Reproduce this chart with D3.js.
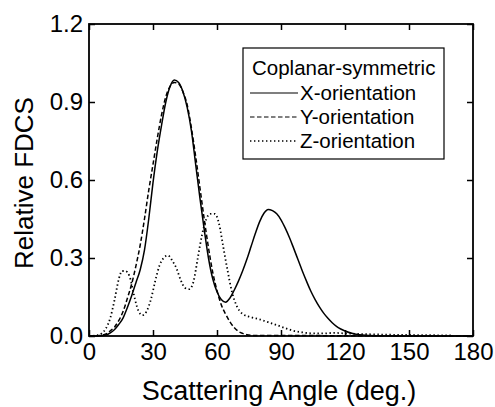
<!DOCTYPE html>
<html>
<head>
<meta charset="utf-8">
<script src="https://cdn.jsdelivr.net/npm/d3@7"></script>
<style>
  body { margin: 0; background: #fff; }
  svg { display: block; font-family: "Liberation Sans", Arial, sans-serif; }
</style>
</head>
<body>
<div id="chart"></div>
<script>
// scattering angle (deg.) and relative FDCS
const xAngles = [0, 5, 8, 10, 12, 14, 16, 18, 20, 22, 24, 26, 28, 30, 32, 34, 36, 38, 40, 42, 44, 46, 48, 50, 52, 54, 56, 58, 60, 62, 64, 66, 68, 70, 72, 74, 76, 78, 80, 82, 84, 86, 88, 90, 92, 94, 96, 98, 100, 102, 104, 106, 108, 110, 112, 114, 116, 118, 120, 124, 128, 135, 150, 180]
const xValues = [0, 0.001, 0.004, 0.012, 0.025, 0.045, 0.07, 0.11, 0.155, 0.205, 0.255, 0.33, 0.45, 0.59, 0.71, 0.81, 0.9, 0.96, 0.985, 0.975, 0.94, 0.88, 0.79, 0.66, 0.53, 0.41, 0.3, 0.22, 0.17, 0.14, 0.13, 0.145, 0.175, 0.21, 0.25, 0.295, 0.345, 0.395, 0.44, 0.472, 0.487, 0.482, 0.47, 0.447, 0.415, 0.378, 0.336, 0.293, 0.25, 0.21, 0.172, 0.14, 0.112, 0.088, 0.068, 0.051, 0.037, 0.027, 0.019, 0.009, 0.004, 0.001, 0, 0]

const yAngles = [0, 5, 8, 10, 12, 14, 16, 18, 20, 22, 24, 26, 28, 30, 32, 34, 36, 38, 40, 42, 44, 46, 48, 50, 52, 54, 56, 58, 60, 62, 64, 66, 68, 70, 72, 74, 78, 90, 120, 180]
const yValues = [0, 0.002, 0.008, 0.02, 0.035, 0.06, 0.095, 0.145, 0.2, 0.27, 0.35, 0.45, 0.56, 0.66, 0.76, 0.85, 0.92, 0.96, 0.975, 0.97, 0.94, 0.89, 0.8, 0.69, 0.57, 0.45, 0.34, 0.245, 0.175, 0.12, 0.085, 0.055, 0.033, 0.018, 0.01, 0.005, 0.002, 0.002, 0.001, 0]

const zAngles = [0, 4, 6, 8, 10, 12, 14, 15.5, 17, 19, 21, 23, 25, 27, 29, 31, 33, 35, 37, 39, 41, 43, 45, 47, 49, 51, 53, 55, 57, 59, 61, 63, 65, 67, 69, 72, 76, 80, 84, 88, 92, 96, 100, 105, 110, 115, 120, 130, 140, 150, 160, 170]
const zValues = [0, 0.003, 0.01, 0.03, 0.07, 0.14, 0.22, 0.25, 0.25, 0.23, 0.16, 0.1, 0.08, 0.095, 0.14, 0.21, 0.27, 0.3, 0.31, 0.29, 0.26, 0.215, 0.185, 0.18, 0.21, 0.3, 0.39, 0.45, 0.47, 0.47, 0.43, 0.34, 0.25, 0.17, 0.12, 0.085, 0.072, 0.064, 0.053, 0.042, 0.03, 0.02, 0.014, 0.01, 0.01, 0.012, 0.01, 0.007, 0.005, 0.004, 0.003, 0.002]

const xTicks = [0, 30, 60, 90, 120, 150, 180]
const yTicks = [0, 0.3, 0.6, 0.9, 1.2]

const seriesNames = ["X-orientation", "Y-orientation", "Z-orientation"]
const legendTitle = "Coplanar-symmetric"

const MARGIN = { TOP: 24, BOTTOM: 71, LEFT: 89, RIGHT: 22 }
const WIDTH = 495 - MARGIN.LEFT - MARGIN.RIGHT
const HEIGHT = 407 - MARGIN.TOP - MARGIN.BOTTOM
const DASHES = [null, "4.5,2.5", "1.4,2.6"]

const svg = d3.select("#chart")
              .append("svg")
              .attr("width", 495)
              .attr("height", 407)
              .append("g")
              .attr("transform", `translate(${MARGIN.LEFT}, ${MARGIN.TOP})`)

const x = d3.scaleLinear().domain([0, 180]).range([0, WIDTH])
const y = d3.scaleLinear().domain([0, 1.2]).range([HEIGHT, 0])

const fmt = d3.format(".1f")

// axes with ticks pointing inside, on all four sides
const xAxisGroup = svg.append("g")
                      .attr("transform", `translate(0, ${HEIGHT})`)
                      .call(d3.axisBottom(x).tickValues(xTicks).tickSize(-6).tickSizeOuter(0).tickPadding(7))
const yAxisGroup = svg.append("g")
                      .call(d3.axisLeft(y).tickValues(yTicks).tickFormat(fmt).tickSize(-6).tickSizeOuter(0).tickPadding(6))
svg.append("g")
   .call(d3.axisTop(x).tickValues(xTicks).tickFormat("").tickSize(-6).tickSizeOuter(0))
svg.append("g")
   .attr("transform", `translate(${WIDTH}, 0)`)
   .call(d3.axisRight(y).tickValues(yTicks).tickFormat("").tickSize(-6).tickSizeOuter(0))

svg.selectAll(".domain").remove()
svg.selectAll(".tick line").attr("stroke", "#000").attr("stroke-width", 1.5)
svg.selectAll(".tick text")
   .attr("fill", "#000")
   .style("font-size", "24px")
   .style("font-family", "'Liberation Sans', Arial, sans-serif")

svg.append("rect")
   .attr("width", WIDTH)
   .attr("height", HEIGHT)
   .attr("fill", "none")
   .attr("stroke", "#000")
   .attr("stroke-width", 1.8)

// curves
const line = d3.line()
               .x(d => x(d[0]))
               .y(d => y(d[1]))
               .curve(d3.curveMonotoneX)

const series = [
  d3.zip(xAngles, xValues),
  d3.zip(yAngles, yValues),
  d3.zip(zAngles, zValues),
]

series.forEach((pts, i) => {
  svg.append("path")
     .datum(pts)
     .attr("fill", "none")
     .attr("stroke", "#000")
     .attr("stroke-width", i === 2 ? 1.8 : 1.5)
     .attr("stroke-dasharray", DASHES[i])
     .attr("d", line)
})

// axis titles
svg.append("text")
   .attr("x", WIDTH / 2 - 2)
   .attr("y", HEIGHT + 64)
   .attr("text-anchor", "middle")
   .style("font-size", "27px")
   .text("Scattering Angle (deg.)")

svg.append("text")
   .attr("transform", "rotate(-90)")
   .attr("x", -(183 - MARGIN.TOP))
   .attr("y", 33 - MARGIN.LEFT)
   .attr("text-anchor", "middle")
   .style("font-size", "26px")
   .text("Relative FDCS")

// legend
const legend = svg.append("g")
                  .attr("transform", `translate(${243 - MARGIN.LEFT}, ${48 - MARGIN.TOP})`)

legend.append("rect")
      .attr("width", 201)
      .attr("height", 111)
      .attr("fill", "#fff")
      .attr("stroke", "#000")
      .attr("stroke-width", 1.2)

legend.append("text")
      .attr("x", 9)
      .attr("y", 27)
      .style("font-size", "20.5px")
      .text(legendTitle)

seriesNames.forEach((name, i) => {
  const ly = 45 + i * 24
  legend.append("line")
        .attr("x1", 7)
        .attr("x2", 55)
        .attr("y1", ly)
        .attr("y2", ly)
        .attr("stroke", "#000")
        .attr("stroke-width", i === 2 ? 1.6 : 1.2)
        .attr("stroke-dasharray", DASHES[i])
  legend.append("text")
        .attr("x", 57)
        .attr("y", ly + 7)
        .style("font-size", "20.5px")
        .text(name)
})
</script>
</body>
</html>
